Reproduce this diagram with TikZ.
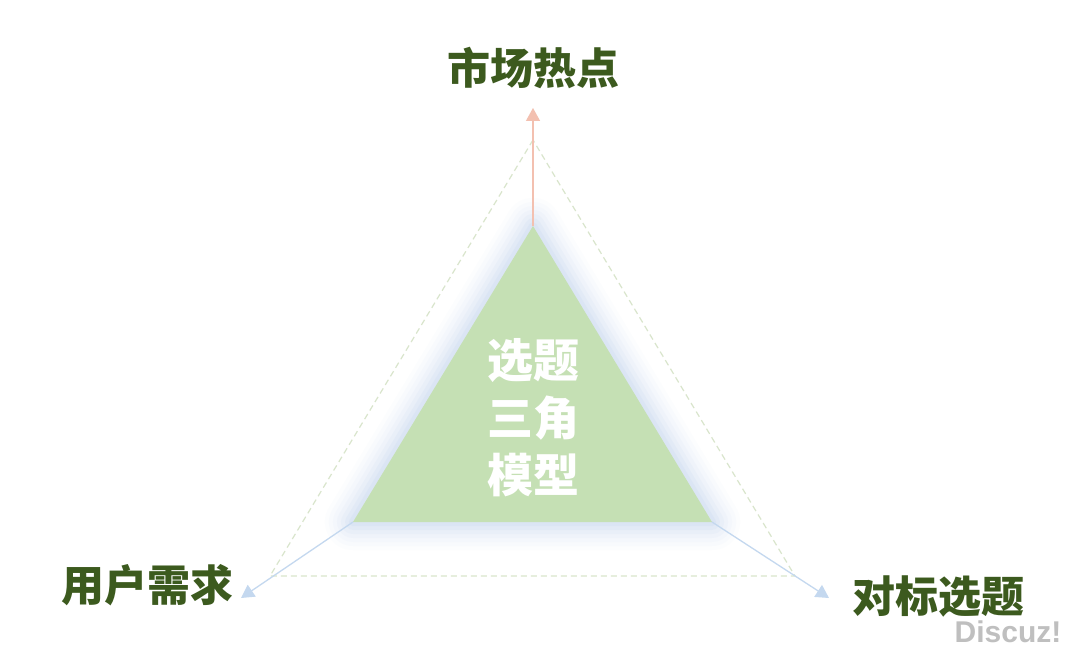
\documentclass[tikz,border=0pt]{standalone}
\usepackage{fontspec}
\newfontfamily\cjk{Noto Sans CJK SC}
\newfontfamily\wmfont{Liberation Sans}
\usetikzlibrary{arrows.meta}
\definecolor{tgreen}{HTML}{C5E0B4}
\definecolor{lgreen}{HTML}{3C5A1E}
\definecolor{dashc}{HTML}{D9E5CC}
\definecolor{pinkc}{HTML}{F3C0B0}
\definecolor{bluec}{HTML}{C4D8EF}
\definecolor{glowc}{HTML}{B7CDEE}
\tikzset{
  label/.style={font=\cjk\bfseries\fontsize{43}{48}\selectfont, text=lgreen, inner sep=0pt},
  arr/.style={line width=1.3pt, -{Triangle[width=14pt,length=13pt]}},
}
\begin{document}
\begin{tikzpicture}[x=1pt,y=-1pt]
\useasboundingbox (0,0) rectangle (1080,650);
\fill[white] (0,0) rectangle (1080,650);
% corners
\coordinate (A) at (533,226);
\coordinate (B) at (353,522);
\coordinate (C) at (712,522);
\coordinate (OA) at (533,140);
\coordinate (OB) at (270,576);
\coordinate (OC) at (795,576);
\coordinate (TA) at (533,108);
\coordinate (TB) at (241,598);
\coordinate (TC) at (829,598);
% dashed outer triangle
\draw[dashc, line width=1.2pt, dash pattern=on 6pt off 4pt] (OA) -- (OB) -- (OC) -- cycle;
% glow
\foreach \w/\o in {56/0.04,48/0.05,40/0.06,32/0.08,24/0.10,16/0.12,8/0.15}{
  \draw[glowc, opacity=\o, line width=\w pt, line join=round] (A) -- (B) -- (C) -- cycle;
}
% arrows
\draw[arr, pinkc] (A) -- (TA);
\draw[arr, bluec] (B) -- (TB);
\draw[arr, bluec] (C) -- (TC);
% inner triangle
\fill[tgreen] (A) -- (B) -- (C) -- cycle;
% texts
\node[label] (top) at (533,68) {市场热点};
\node[label] (left) at (147,585) {用户需求};
\node[label] (right) at (938,597) {对标选题};
\node[font=\cjk\bfseries\fontsize{46}{57.5}\selectfont, text=white, align=center, inner sep=0pt] (mid) at (533,418) {选题\\三角\\模型};
\node[font=\wmfont\bfseries\fontsize{30}{34}\selectfont, text=black!25, inner sep=0pt] (wm) at (1008,632) {Discuz!};
\end{tikzpicture}
\end{document}
